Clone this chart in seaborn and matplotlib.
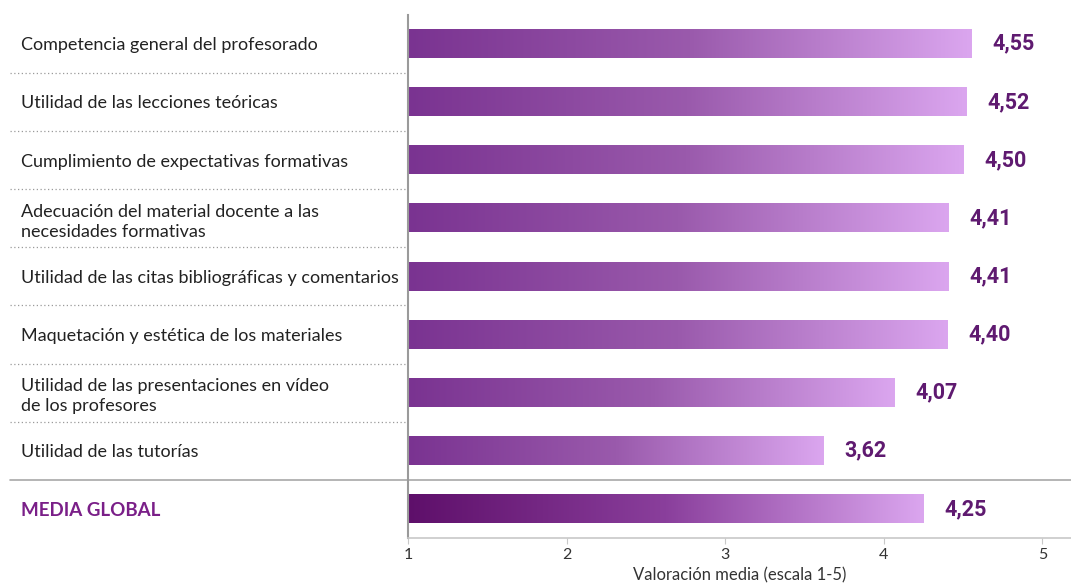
import matplotlib.pyplot as plt
import matplotlib.transforms as mtransforms
from matplotlib.colors import LinearSegmentedColormap
import numpy as np
import seaborn as sns

sns.set_style("white")
plt.rcParams['font.family'] = ['Lato', 'DejaVu Sans']

categorias = [
    "Competencia general del profesorado",
    "Utilidad de las lecciones teóricas",
    "Cumplimiento de expectativas formativas",
    "Adecuación del material docente a las\nnecesidades formativas",
    "Utilidad de las citas bibliográficas y comentarios",
    "Maquetación y estética de los materiales",
    "Utilidad de las presentaciones en vídeo\nde los profesores",
    "Utilidad de las tutorías",
    "MEDIA GLOBAL",
]
valores = [4.55, 4.52, 4.50, 4.41, 4.41, 4.40, 4.07, 3.62, 4.25]
etiquetas = ["4,55", "4,52", "4,50", "4,41", "4,41", "4,40", "4,07", "3,62", "4,25"]

grad_normal = LinearSegmentedColormap.from_list("normal", ["#7a3391", "#9a5aac", "#dba6ef"])
grad_media = LinearSegmentedColormap.from_list("media", ["#5e0f6a", "#8a3f9c", "#dba6ef"])

fig = plt.figure(figsize=(10.71, 5.86), dpi=100)
ax = fig.add_axes([0.381, 0.082, 0.619, 0.893])

sns.barplot(x=valores, y=categorias, orient="h", width=0.49, color="#7a3391", ax=ax)
ax.set_xlim(1, 5.18)
ax.set_ylim(8.5, -0.5)

# degradado en cada barra
for i, p in enumerate(ax.patches):
    x0 = max(p.get_x(), ax.get_xlim()[0])
    x1 = p.get_x() + p.get_width()
    y0, y1 = p.get_y(), p.get_y() + p.get_height()
    cmap = grad_media if i == len(valores) - 1 else grad_normal
    ax.imshow(np.linspace(0, 1, 256).reshape(1, -1), cmap=cmap, aspect="auto",
              extent=[x0, x1, y1, y0], zorder=2)
    p.set_visible(False)
    ax.annotate(etiquetas[i], xy=(x1, (y0 + y1) / 2), xytext=(15, 0),
                textcoords="offset points", va="center", ha="left",
                fontsize=15.5, fontweight="bold", color="#5f1a70",
                family=["Roboto", "DejaVu Sans"])
ax.set_xlim(1, 5.18)
ax.set_ylim(8.5, -0.5)

# etiquetas de categoria alineadas a la izquierda
ax.set_yticks(range(len(categorias)))
ax.set_yticklabels(categorias, ha="left", fontsize=13, color="#222222",
                   linespacing=1.3)
ax.tick_params(axis="y", length=0, pad=279)
lbl = ax.get_yticklabels()[-1]
lbl.set_color("#7a1f88")
lbl.set_fontweight("bold")
lbl.set_fontsize(13.5)

# separadores
trans = mtransforms.blended_transform_factory(ax.transAxes, ax.transData)
for k in range(len(categorias) - 2):
    ax.plot([-0.60, 0], [k + 0.5, k + 0.5], transform=trans, color="#9a9a9a",
            linestyle=(0, (1, 2)), linewidth=0.9, clip_on=False)
ax.plot([-0.60, 1], [7.5, 7.5], transform=trans, color="#a8a8a8",
        linewidth=1.2, clip_on=False)

for s in ["top", "right"]:
    ax.spines[s].set_visible(False)
ax.spines["left"].set_color("#9a9a9a")
ax.spines["left"].set_linewidth(1.5)
ax.spines["bottom"].set_color("#c8c8c8")
ax.spines["bottom"].set_linewidth(1.2)

ax.set_xticks([1, 2, 3, 4, 5])
ax.tick_params(axis="x", length=4, color="#c8c8c8", labelsize=11.5,
               labelcolor="#333333", pad=3, bottom=True)
ax.set_xlabel("Valoración media (escala 1-5)", fontsize=12, color="#333333",
              labelpad=4)
ax.set_ylabel("")

fig.savefig("out.png", dpi=100)
